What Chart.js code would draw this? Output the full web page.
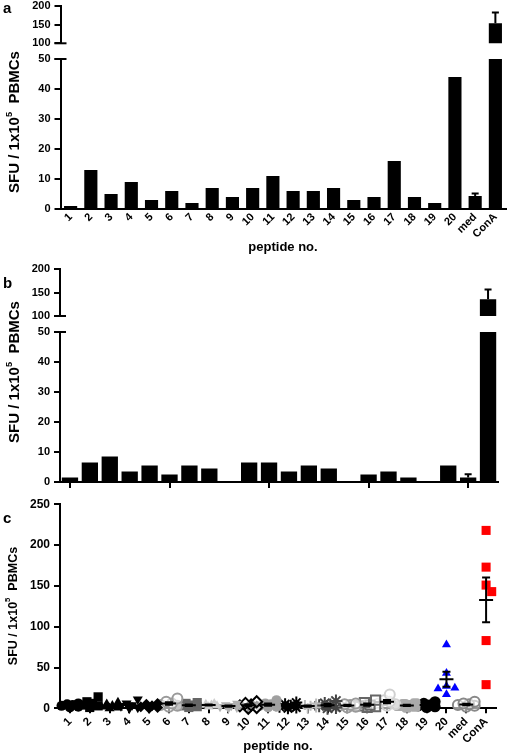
<!DOCTYPE html>
<html><head><meta charset="utf-8">
<script src="https://cdn.jsdelivr.net/npm/chart.js@4"></script>
<style>
html,body{margin:0;padding:0;background:#fff;}
body{width:510px;height:755px;overflow:hidden;position:relative;font-family:"Liberation Sans",Arial,sans-serif;}
.box{position:absolute;left:0;width:510px;}
.box canvas{display:block;}
.plbl{position:absolute;font-weight:bold;color:#000;line-height:1;}
.ytitle{position:absolute;font-weight:bold;color:#000;white-space:nowrap;text-align:center;transform:rotate(-90deg);line-height:16px;height:16px;}
.ytitle sup{font-size:0.62em;position:relative;top:-0.15em;vertical-align:top;line-height:1;}
</style></head><body>
<div class="box" style="top:0;height:50px"><canvas id="aTop"></canvas></div>
<div class="box" style="top:50px;height:205px"><canvas id="aBot"></canvas></div>
<div class="box" style="top:262px;height:60px"><canvas id="bTop"></canvas></div>
<div class="box" style="top:322px;height:172px"><canvas id="bBot"></canvas></div>
<div class="box" style="top:495px;height:260px"><canvas id="cMain"></canvas></div>
<div class="plbl" style="left:3px;top:0px;font-size:15px">a</div>
<div class="plbl" style="left:3px;top:275px;font-size:15px">b</div>
<div class="plbl" style="left:3px;top:510px;font-size:15px">c</div>
<div class="ytitle" style="left:-86px;top:114px;width:200px;font-size:15px">SFU / 1x10<sup>5</sup>&nbsp; PBMCs</div>
<div class="ytitle" style="left:-86px;top:364px;width:200px;font-size:15px">SFU / 1x10<sup>5</sup>&nbsp; PBMCs</div>
<div class="ytitle" style="left:-87px;top:598px;width:200px;font-size:12.5px">SFU / 1x10<sup>5</sup>&nbsp; PBMCs</div>
<script>
// ---------- data ----------
const categories = ['1','2','3','4','5','6','7','8','9','10','11','12','13','14','15','16','17','18','19','20','med','ConA'];
const panelAValues = [1,13,5,9,3,6,2,7,4,7,11,6,6,7,3,4,16,4,2,44,4.3,153];
const panelASem    = [0,0,0,0,0,0,0,0,0,0,0,0,0,0,0,0,0,0,0,0,0.9,29];
const panelBValues = [1.5,6.5,8.5,3.5,5.5,2.5,5.5,4.5,0,6.5,6.5,3.5,5.5,4.5,0,2.5,3.5,1.5,0,5.5,1.5,136];
const panelBSem    = [0,0,0,0,0,0,0,0,0,0,0,0,0,0,0,0,0,0,0,0,1.1,21];
const lowSegmentTicks  = [0,10,20,30,40,50];
const highSegmentTicks = [100,150,200];
const panelCTicks = [0,50,100,150,200,250];
const panelCValues = [
  [1,2,3,4,5,6],
  [1,3,4,6,8,14],
  [0,1,2,3,5,7],
  [0,1,3,4,6,11],
  [0,1,2,3,5,6],
  [2,3,4,6,8,12],
  [1,2,3,4,6,7],
  [2,3,4,4,5,6],
  [0,1,2,3,4,6],
  [0,1,3,4,6,8],
  [1,2,3,5,6,10],
  [0,1,2,3,5,7],
  [0,1,2,3,4,6],
  [0,1,3,4,6,9],
  [1,2,3,4,5,6],
  [1,2,3,4,7,10],
  [3,5,6,8,10,17],
  [1,2,3,4,5,6],
  [1,2,3,4,6,8],
  [78,43,27,25,24,17],
  [2,3,4,5,6,8],
  [218,173,151,143,83,29]
];
const xTitle = 'peptide no.';

// ---------- styles ----------
const panelCMarkers = [
  {style:'circle',     color:'#000',    fill:true,  r:5},
  {style:'rect',       color:'#000',    fill:true,  r:6.5},
  {style:'triangle',   color:'#000',    fill:true,  r:5.8},
  {style:'triangle',   color:'#000',    fill:true,  r:5.8, rot:180},
  {style:'rectRot',    color:'#000',    fill:true,  r:5.5},
  {style:'circle',     color:'#9a9a9a', fill:false, r:5},
  {style:'rect',       color:'#666',    fill:true,  r:6.5},
  {style:'triangle',   color:'#d0d0d0', fill:true,  r:5.5},
  {style:'triangle',   color:'#b0b0b0', fill:true,  r:5.5, rot:180},
  {style:'rectRot',    color:'#000',    fill:false, r:5.5},
  {style:'circle',     color:'#a0a0a0', fill:true,  r:5},
  {style:'star',       color:'#000',    fill:false, r:6},
  {style:'cross',      color:'#bbb',    fill:false, r:5},
  {style:'star',       color:'#444',    fill:false, r:6.5},
  {style:'circle',     color:'#999',    fill:false, r:5},
  {style:'rect',       color:'#666',    fill:false, r:6.5},
  {style:'circle',     color:'#d0d0d0', fill:false, r:5},
  {style:'rectRounded',color:'#aaa',    fill:true,  r:6},
  {style:'circle',     color:'#000',    fill:true,  r:5.6},
  {style:'triangle',   color:'#0000ff', fill:true,  r:5.2},
  {style:'circle',     color:'#888',    fill:false, r:5},
  {style:'rect',       color:'#ff0000', fill:true,  r:6.4}
];
const FONT = '"Liberation Sans", Arial, sans-serif';

// ---------- plugins ----------
const barErrorPlugin = {
  id: 'barError',
  afterDatasetsDraw(chart, args, opts) {
    if (!opts || !opts.sem) return;
    const ctx = chart.ctx, y = chart.scales.y, a = chart.chartArea;
    const meta = chart.getDatasetMeta(0), vals = chart.data.datasets[0].data;
    ctx.save();
    ctx.beginPath(); ctx.rect(a.left, a.top - 1, a.right - a.left, a.bottom - a.top + 2); ctx.clip();
    ctx.strokeStyle = '#000'; ctx.lineWidth = 2;
    opts.sem.forEach((s, i) => {
      if (!s) return;
      const x = meta.data[i].x;
      const y0 = y.getPixelForValue(vals[i]), y1 = y.getPixelForValue(vals[i] + s);
      ctx.beginPath(); ctx.moveTo(x, y0); ctx.lineTo(x, y1);
      ctx.moveTo(x - 3.5, y1); ctx.lineTo(x + 3.5, y1); ctx.stroke();
    });
    ctx.restore();
  }
};
const breakPlugin = {
  id: 'breakMark',
  afterDraw(chart, args, opts) {
    if (!opts || !opts.at) return;
    const ctx = chart.ctx, a = chart.chartArea;
    const yy = opts.at === 'bottom' ? a.bottom : a.top;
    ctx.save(); ctx.strokeStyle = '#000'; ctx.lineWidth = 2;
    ctx.beginPath(); ctx.moveTo(a.left - 6, yy); ctx.lineTo(a.left + 6, yy); ctx.stroke();
    ctx.restore();
  }
};
const swarmPlugin = {
  id: 'swarm',
  afterDatasetsUpdate(chart, args, opts) {
    if (!opts || !opts.on) return;
    chart.data.datasets.forEach((ds, di) => {
      const meta = chart.getDatasetMeta(di);
      const r = ds.pointRadius;
      const step = 2.8, minD = 1.3 * r;
      const placed = [];
      meta.data.forEach(el => {
        const cx = el.x;
        let best = cx, bestScore = -1;
        for (const k of [0,1,-1,2,-2,3,-3]) {
          const x = cx + k * step;
          let md = Infinity;
          placed.forEach(p => { md = Math.min(md, Math.hypot(p.x - x, p.y - el.y)); });
          if (md >= minD) { best = x; break; }
          if (md > bestScore) { bestScore = md; best = x; }
        }
        el.x = best;
        placed.push({x: best, y: el.y});
      });
    });
  }
};
const meanSemPlugin = {
  id: 'meanSem',
  afterDatasetsDraw(chart, args, opts) {
    if (!opts || !opts.on) return;
    const ctx = chart.ctx, xs = chart.scales.x, ys = chart.scales.y;
    ctx.save(); ctx.strokeStyle = '#000'; ctx.lineWidth = 2;
    panelCValues.forEach((vals, i) => {
      const n = vals.length;
      const mean = vals.reduce((s, v) => s + v, 0) / n;
      const sd = Math.sqrt(vals.reduce((s, v) => s + (v - mean) * (v - mean), 0) / (n - 1));
      const sem = sd / Math.sqrt(n);
      const x = xs.getPixelForValue(i);
      const ym = ys.getPixelForValue(mean), yt = ys.getPixelForValue(mean + sem), yb = ys.getPixelForValue(Math.max(0, mean - sem));
      ctx.beginPath();
      ctx.moveTo(x - 7, ym); ctx.lineTo(x + 7, ym);
      ctx.moveTo(x, yt); ctx.lineTo(x, yb);
      ctx.moveTo(x - 4, yt); ctx.lineTo(x + 4, yt);
      ctx.moveTo(x - 4, yb); ctx.lineTo(x + 4, yb);
      ctx.stroke();
    });
    ctx.restore();
  }
};
Chart.register(barErrorPlugin, breakPlugin, swarmPlugin, meanSemPlugin);

function yAxis(min, max, ticksArr, width, fontSize) {
  return {
    min, max,
    afterBuildTicks: s => { s.ticks = ticksArr.map(v => ({value: v})); },
    afterFit: s => { s.width = width; s.paddingTop = 0; s.paddingBottom = 0; },
    grid: {drawOnChartArea: false, drawTicks: true, tickLength: 6, color: '#000', lineWidth: 2},
    border: {display: true, color: '#000', width: 2},
    ticks: {color: '#000', padding: 4, font: {family: FONT, size: fontSize || 11, weight: 'bold', lineHeight: 1}}
  };
}

function barChart(id, values, sem, seg, cfg) {
  const isTop = seg === 'top';
  const xScale = isTop ? {display: false} : {
    offset: true,
    afterFit: s => { s.height = cfg.xHeight; s.paddingLeft = 0; s.paddingRight = 0; },
    afterBuildTicks: cfg.tickEvery ? (s => { s.ticks = s.ticks.filter((t, i) => i % cfg.tickEvery === 0); }) : undefined,
    grid: {display: !!cfg.xTicks, drawOnChartArea: false, drawTicks: !!cfg.xTicks, tickLength: 6, color: '#000', lineWidth: 2, offset: false},
    border: {display: true, color: '#000', width: 2},
    ticks: {display: !!cfg.xLabels, autoSkip: false, minRotation: 45, maxRotation: 45, padding: 2, color: '#000',
            font: {family: FONT, size: 11, weight: 'bold', lineHeight: 1.1}},
    title: {display: !!cfg.xLabels, text: xTitle, color: '#000', padding: {top: 0, bottom: 0},
            font: {family: FONT, size: 13, weight: 'bold', lineHeight: 1.2}}
  };
  return new Chart(document.getElementById(id), {
    type: 'bar',
    data: {labels: categories, datasets: [{data: values, backgroundColor: '#000', borderWidth: 0,
      categoryPercentage: 1, barPercentage: cfg.barPct, clip: 0}]},
    options: {
      responsive: true, maintainAspectRatio: false, animation: false, events: [],
      layout: {padding: {left: 0, right: cfg.padRight, top: cfg.padTop, bottom: cfg.padBottom || 0}},
      plugins: {legend: {display: false}, tooltip: {enabled: false},
        barError: {sem}, breakMark: {at: isTop ? 'bottom' : 'top'}},
      scales: {
        x: xScale,
        y: isTop ? yAxis(100, 200, highSegmentTicks, cfg.yWidth) : yAxis(0, 50, lowSegmentTicks, cfg.yWidth)
      }
    }
  });
}

// Panel a
barChart('aTop', panelAValues, panelASem, 'top', {padRight: 4.5, padTop: 5.7, padBottom: 6.7, yWidth: 60.5, barPct: 0.65});
barChart('aBot', panelAValues, panelASem, 'bottom', {padRight: 4.5, padTop: 9, yWidth: 60.5, barPct: 0.65, xHeight: 46, xLabels: true});
// Panel b
barChart('bTop', panelBValues, panelBSem, 'top', {padRight: 12, padTop: 7.3, padBottom: 6, yWidth: 60, barPct: 0.82});
barChart('bBot', panelBValues, panelBSem, 'bottom', {padRight: 12, padTop: 10, yWidth: 60, barPct: 0.82, xHeight: 12, xTicks: true, tickEvery: 5});

// Panel c
new Chart(document.getElementById('cMain'), {
  type: 'line',
  data: {
    labels: categories,
    datasets: panelCValues.map((vals, i) => {
      const m = panelCMarkers[i];
      return {
        data: vals.map(v => ({x: categories[i], y: v})),
        showLine: false, clip: false,
        pointStyle: m.style, pointRadius: m.r, pointRotation: m.rot || 0,
        pointBackgroundColor: m.fill ? m.color : 'rgba(255,255,255,0.6)',
        pointBorderColor: m.color, pointBorderWidth: m.fill ? 0 : 2
      };
    })
  },
  options: {
    responsive: true, maintainAspectRatio: false, animation: false, events: [],
    layout: {padding: {left: 0, right: 14, top: 9.3, bottom: 0}},
    plugins: {legend: {display: false}, tooltip: {enabled: false}, swarm: {on: true}, meanSem: {on: true}},
    scales: {
      x: {
        type: 'category', offset: true,
        afterFit: s => { s.height = 46.7; s.paddingLeft = 0; s.paddingRight = 0; },
        grid: {drawOnChartArea: false, drawTicks: true, tickLength: 5, color: '#000', lineWidth: 2, offset: false},
        border: {display: true, color: '#000', width: 2},
        ticks: {autoSkip: false, minRotation: 45, maxRotation: 45, padding: 2, color: '#000',
                font: {family: FONT, size: 11.5, weight: 'bold', lineHeight: 1.1}},
        title: {display: true, text: xTitle, color: '#000', padding: {top: 0, bottom: 0.5},
                font: {family: FONT, size: 13, weight: 'bold', lineHeight: 1.2}}
      },
      y: yAxis(0, 250, panelCTicks, 60, 12)
    }
  }
});
</script>
</body></html>
